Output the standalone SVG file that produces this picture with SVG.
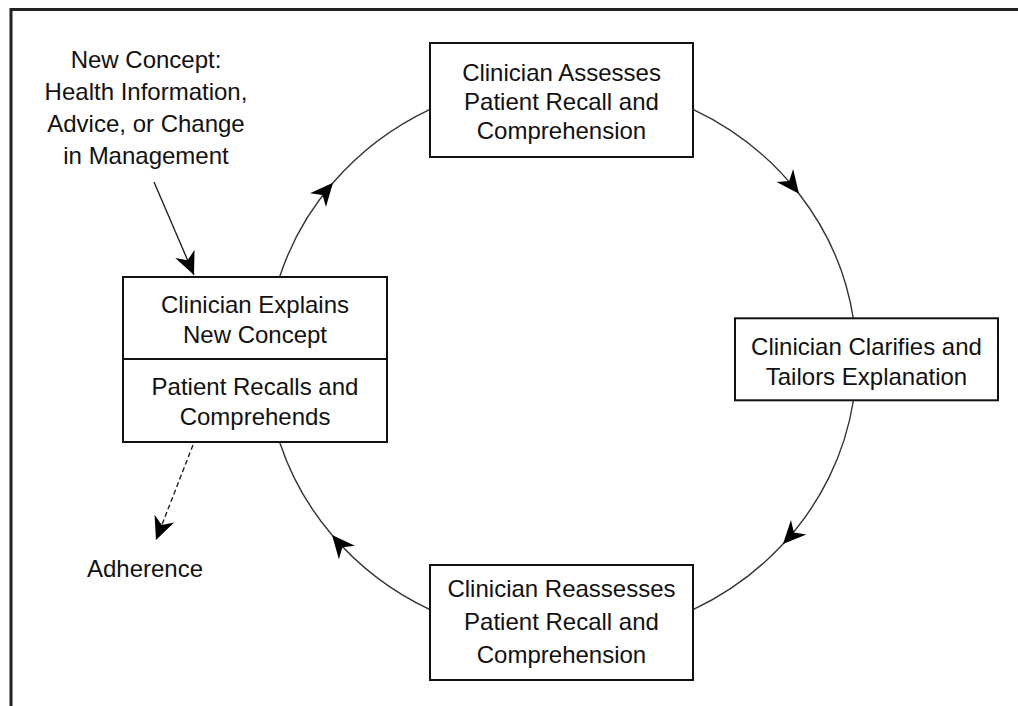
<svg xmlns="http://www.w3.org/2000/svg" width="1018" height="706" viewBox="0 0 1018 706">
<style>
.box{fill:#fff;stroke:#111;stroke-width:2}
.t{font-family:"Liberation Sans",Arial,sans-serif;font-size:24px;fill:#111;text-anchor:middle}
.arc{fill:none;stroke:#333;stroke-width:1.4;marker-mid:url(#ah)}
.ln{fill:none;stroke:#222;stroke-width:1.4}
</style>
<defs>
<marker id="ah" markerUnits="userSpaceOnUse" viewBox="-27 -15 32 30" refX="0" refY="0" markerWidth="32" markerHeight="30" orient="auto">
<path d="M0,0 L-23,-10.5 L-16,0 L-23,10.5 Z" fill="#000"/>
</marker>
</defs>
<rect width="1018" height="706" fill="#fff"/>
<path d="M11,706 V9.5 H1018" fill="none" stroke="#222" stroke-width="3"/>
<g id="connectors">
<path class="arc" d="M693,109.3 A295 279.5 0 0 1 799,193.7 A295 279.5 0 0 1 853.3,318.3"/>
<path class="arc" d="M853.4,400.5 A295 279.5 0 0 1 783,544.1 A295 279.5 0 0 1 693,609.7"/>
<path class="arc" d="M430,609.7 A295 279.5 0 0 1 332,535 A295 279.5 0 0 1 279.6,442"/>
<path class="arc" d="M279.6,277 A295 279.5 0 0 1 333,182.8 A295 279.5 0 0 1 430,109.3"/>
<path class="ln" d="M154,182 L194,275" marker-end="url(#ah)"/>
<path class="ln" d="M193,445 L156,540" stroke-dasharray="5 3" marker-end="url(#ah)"/>
</g>
<g id="newconcept">
<text class="t" x="146" y="68">New Concept:</text>
<text class="t" x="146" y="100">Health Information,</text>
<text class="t" x="146" y="132">Advice, or Change</text>
<text class="t" x="146" y="164">in Management</text>
</g>
<g id="assess">
<rect class="box" x="430" y="43" width="263" height="114"/>
<text class="t" x="561.5" y="81">Clinician Assesses</text>
<text class="t" x="561.5" y="110">Patient Recall and</text>
<text class="t" x="561.5" y="139">Comprehension</text>
</g>
<g id="clarify">
<rect class="box" x="735" y="318.3" width="263" height="82"/>
<text class="t" x="866.5" y="355">Clinician Clarifies and</text>
<text class="t" x="866.5" y="385">Tailors Explanation</text>
</g>
<g id="reassess">
<rect class="box" x="430" y="565" width="263" height="115"/>
<text class="t" x="561.5" y="597">Clinician Reassesses</text>
<text class="t" x="561.5" y="630">Patient Recall and</text>
<text class="t" x="561.5" y="663">Comprehension</text>
</g>
<g id="explain">
<rect class="box" x="123" y="277" width="264" height="165"/>
<line x1="123" y1="359" x2="387" y2="359" stroke="#111" stroke-width="2"/>
<text class="t" x="255" y="313">Clinician Explains</text>
<text class="t" x="255" y="343">New Concept</text>
<text class="t" x="255" y="395">Patient Recalls and</text>
<text class="t" x="255" y="425">Comprehends</text>
</g>
<g id="adherence">
<text class="t" x="145" y="577">Adherence</text>
</g>
</svg>
